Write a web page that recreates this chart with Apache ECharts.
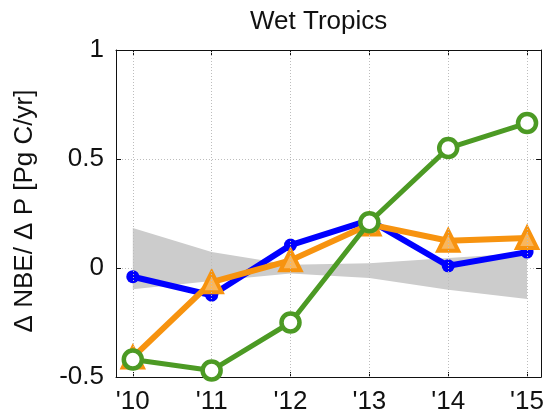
<!DOCTYPE html>
<html>
<head>
<meta charset="utf-8">
<script src="https://cdn.jsdelivr.net/npm/echarts@6/dist/echarts.min.js"></script>
<style>
  html, body { margin: 0; padding: 0; background: #fff; }
  #chart { width: 547px; height: 420px; }
</style>
</head>
<body>
<div id="chart"></div>
<script>
// Years (two-digit) along the x axis
const years = [10, 11, 12, 13, 14, 15];
const yearLabels = ["'10", "'11", "'12", "'13", "'14", "'15"];

// ΔNBE/ΔP per year for the three estimates
const blueValues = [-0.04, -0.125, 0.105, 0.22, 0.01, 0.073];
const orangeValues = [-0.41, -0.065, 0.035, 0.2, 0.125, 0.138];
const greenValues = [-0.42, -0.47, -0.25, 0.21, 0.55, 0.665];

// Grey uncertainty envelope (lower / upper edges)
const bandLower = [-0.097, -0.06, -0.025, -0.046, -0.1, -0.142];
const bandUpper = [0.183, 0.073, 0.015, 0.022, 0.046, 0.069];

// y axis ticks
const yTicks = [-0.5, 0, 0.5, 1];

const pairs = (vals) => years.map((x, i) => [x, vals[i]]);
const bandRows = years.map((x, i) => [x, bandLower[i], bandUpper[i]]);

const FONT = 'Liberation Sans, Arial, Helvetica, sans-serif';
const BLUE = '#0000ff';
const ORANGE = '#f7930f';
const GREEN = '#4c9a24';

const chart = echarts.init(document.getElementById('chart'), null, { renderer: 'canvas' });

const xMin = 9.787, xMax = 15.178;
const dotted = { color: '#bdbdbd', width: 1, type: [1, 2] };

// Envelope polygon: upper edge left→right, then lower edge right→left
function renderBand(params, api) {
  if (params.dataIndex !== 0) return null;
  const upper = bandRows.map((r) => api.coord([r[0], r[2]]));
  const lower = bandRows.map((r) => api.coord([r[0], r[1]])).reverse();
  return {
    type: 'polygon',
    shape: { points: upper.concat(lower) },
    style: { fill: '#cccccc', stroke: null }
  };
}

chart.setOption({
  animation: false,
  backgroundColor: '#ffffff',
  grid: { left: 116, right: 2, top: 50, bottom: 43, containLabel: false },
  title: {
    text: 'Wet Tropics',
    left: 245, top: 4,
    textStyle: { fontFamily: FONT, fontSize: 26, fontWeight: 'normal', color: '#111' }
  },
  graphic: [{
    type: 'text',
    x: 25, y: 211,
    rotation: Math.PI / 2,
    style: {
      text: 'Δ NBE/ Δ P [Pg C/yr]',
      fontFamily: FONT, fontSize: 26, fill: '#111',
      textAlign: 'center', textVerticalAlign: 'middle'
    }
  }],
  xAxis: [{
    type: 'value', min: xMin, max: xMax, position: 'bottom',
    axisLine: { show: true, onZero: false, lineStyle: { color: '#111', width: 1 } },
    axisTick: { show: true, inside: true, length: 5, customValues: years, lineStyle: { color: '#111' } },
    axisLabel: {
      show: true, customValues: years, margin: 12,
      fontFamily: FONT, fontSize: 26, color: '#111',
      formatter: (v) => yearLabels[years.indexOf(Math.round(v))] || ''
    },
    splitLine: { show: false }
  }, {
    type: 'value', min: xMin, max: xMax, position: 'top',
    axisLine: { show: true, onZero: false, lineStyle: { color: '#111', width: 1 } },
    axisTick: { show: true, inside: true, length: 5, customValues: years, lineStyle: { color: '#111' } },
    axisLabel: { show: false },
    splitLine: { show: false }
  }],
  yAxis: [{
    type: 'value', min: -0.5, max: 1, interval: 0.5, position: 'left',
    axisLine: { show: true, onZero: false, lineStyle: { color: '#111', width: 1 } },
    axisTick: { show: true, inside: true, length: 5, lineStyle: { color: '#111' } },
    axisLabel: {
      show: true, margin: 12, fontFamily: FONT, fontSize: 26, color: '#111',
      formatter: (v) => (yTicks.indexOf(v) >= 0 ? String(v) : '')
    },
    splitLine: { show: true, lineStyle: dotted }
  }, {
    type: 'value', min: -0.5, max: 1, interval: 0.5, position: 'right',
    axisLine: { show: true, onZero: false, lineStyle: { color: '#111', width: 1 } },
    axisTick: { show: true, inside: true, length: 5, lineStyle: { color: '#111' } },
    axisLabel: { show: false },
    splitLine: { show: false }
  }],
  series: [
    {
      // vertical dotted grid lines at each year
      type: 'line', data: [], silent: true,
      markLine: {
        silent: true, symbol: 'none', label: { show: false },
        lineStyle: dotted,
        data: years.map((x) => ({ xAxis: x }))
      }
    },
    {
      type: 'custom', data: bandRows, silent: true,
      encode: { x: 0, y: [1, 2] },
      renderItem: renderBand,
      z: 1
    },
    {
      type: 'line', data: pairs(blueValues),
      symbol: 'circle', symbolSize: 13,
      lineStyle: { color: BLUE, width: 6 },
      itemStyle: { color: BLUE, borderWidth: 0 },
      z: 3
    },
    {
      type: 'line', data: pairs(orangeValues),
      symbol: 'triangle', symbolSize: 20,
      lineStyle: { color: ORANGE, width: 6 },
      itemStyle: { color: '#f9b65c', borderColor: ORANGE, borderWidth: 4 },
      z: 4
    },
    {
      type: 'line', data: pairs(greenValues),
      symbol: 'circle', symbolSize: 18,
      lineStyle: { color: GREEN, width: 5 },
      itemStyle: { color: '#ffffff', borderColor: GREEN, borderWidth: 4.5 },
      z: 5
    }
  ]
});
</script>
</body>
</html>
